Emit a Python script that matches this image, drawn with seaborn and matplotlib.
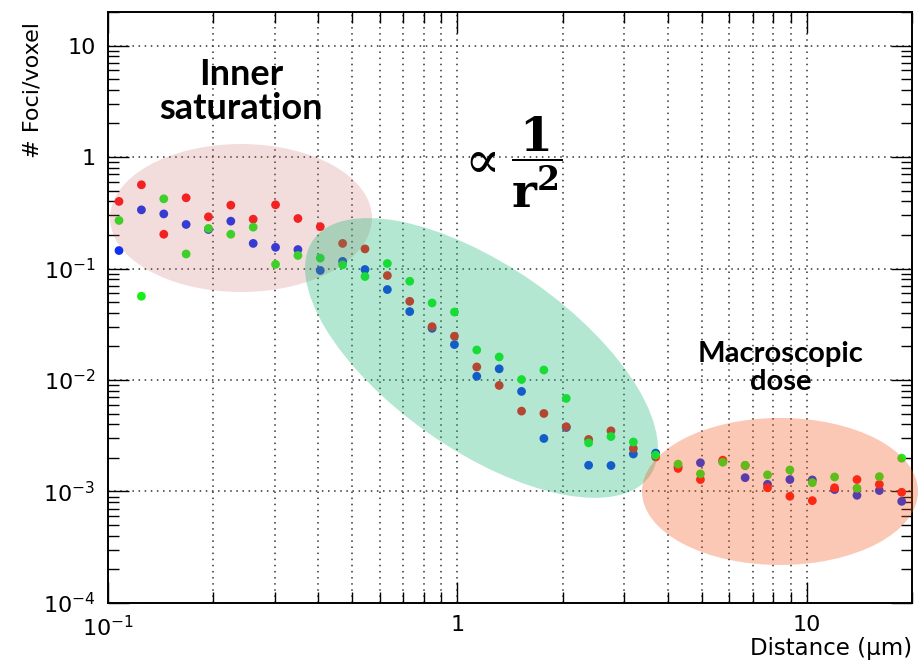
import numpy as np
import pandas as pd
import matplotlib
matplotlib.use('Agg')
import matplotlib.pyplot as plt
import matplotlib.ticker as mticker
from matplotlib.patches import Ellipse
from matplotlib.transforms import ScaledTranslation
import seaborn as sns

# Distance bins (um)
distance = [0.1075, 0.1246, 0.1444, 0.1673, 0.1938, 0.2246, 0.2603, 0.3016, 0.3495,
            0.4050, 0.4693, 0.5438, 0.6302, 0.7303, 0.8462, 0.9806, 1.136, 1.317,
            1.526, 1.768, 2.049, 2.374, 2.751, 3.188, 3.694, 4.281, 4.961, 5.748,
            6.661, 7.719, 8.945, 10.37, 12.01, 13.92, 16.13, 18.69]

# Foci per voxel for the three series
foci_red = [0.40, 0.564, 0.203, 0.431, 0.291, 0.370, 0.277, 0.373, 0.281,
            0.2375, 0.168, 0.150, 0.0865, 0.0508, 0.0301, 0.0247, 0.0131, 0.00894,
            0.00526, 0.00501, 0.00381, 0.00293, 0.00350, 0.00243, 0.00204, 0.00161,
            0.00128, 0.00191, 0.00171, 0.00108, 0.000906, 0.000828, 0.00108, 0.00128,
            0.00116, 0.000984]
foci_blue = [0.145, 0.336, 0.309, 0.2485, 0.224, 0.266, 0.168, 0.155, 0.148,
             0.0961, 0.116, 0.098, 0.0648, 0.0411, 0.0291, 0.0208, 0.0108, 0.0126,
             0.0079, 0.00299, 0.00375, 0.00172, 0.00171, 0.00217, 0.00221, 0.00167,
             0.00181, 0.00186, 0.00133, 0.00116, 0.00128, 0.00127, 0.00104, 0.000924,
             0.00102, 0.000816]
foci_green = [0.270, 0.0564, 0.422, 0.135, 0.229, 0.203, 0.235, 0.109, 0.131,
              0.124, 0.108, 0.0848, 0.111, 0.0769, 0.0491, 0.0407, 0.0186, 0.0161,
              0.0101, 0.0123, 0.00684, 0.00273, 0.00311, 0.00278, 0.00212, 0.00176,
              0.00144, 0.00183, 0.00172, 0.00141, 0.00156, 0.00120, 0.00135, 0.00107,
              0.00136, 0.00199]

x_ticks = [0.1, 1, 10]
x_ticklabels = [r'$10^{-1}$', '1', '10']
y_ticks = [1e-4, 1e-3, 1e-2, 1e-1, 1, 10]
y_ticklabels = [r'$10^{-4}$', r'$10^{-3}$', r'$10^{-2}$', r'$10^{-1}$', '1', '10']

sns.set_style('ticks')
plt.rcParams['font.family'] = ['DejaVu Sans']
plt.rcParams['mathtext.fontset'] = 'dejavusans'
plt.rcParams['text.color'] = 'black'
plt.rcParams['axes.labelcolor'] = 'black'

# blue drawn first, then red, green on top
df = pd.concat([
    pd.DataFrame({'distance': distance, 'foci': foci_blue, 'series': 'blue'}),
    pd.DataFrame({'distance': distance, 'foci': foci_red, 'series': 'red'}),
    pd.DataFrame({'distance': distance, 'foci': foci_green, 'series': 'green'}),
], ignore_index=True)
palette = {'blue': '#1030f0', 'red': '#ff1010', 'green': '#18ee18'}

fig = plt.figure(figsize=(9.21, 6.6), dpi=100)
ax = fig.add_axes([0.1173, 0.0864, 0.8729, 0.8954])
ax.set_xscale('log')
ax.set_yscale('log')
sns.scatterplot(data=df, x='distance', y='foci', hue='series', palette=palette,
                s=40, linewidth=0, legend=False, ax=ax, zorder=2)
ax.set_xlim(0.1, 20)
ax.set_ylim(1e-4, 20)

# ticks, ROOT style
ax.xaxis.set_major_locator(mticker.FixedLocator(x_ticks))
ax.xaxis.set_major_formatter(mticker.FixedFormatter(x_ticklabels))
ax.yaxis.set_major_locator(mticker.FixedLocator(y_ticks))
ax.yaxis.set_major_formatter(mticker.FixedFormatter(y_ticklabels))
ax.xaxis.set_minor_locator(mticker.LogLocator(base=10, subs=np.arange(2, 10), numticks=20))
ax.yaxis.set_minor_locator(mticker.LogLocator(base=10, subs=np.arange(2, 10), numticks=20))
ax.xaxis.set_minor_formatter(mticker.NullFormatter())
ax.yaxis.set_minor_formatter(mticker.NullFormatter())
ax.tick_params(which='both', direction='in', top=True, right=True, width=1,
               color='black', labelcolor='black', labelsize=16)
ax.tick_params(which='major', length=15)
ax.tick_params(which='minor', length=8)
ax.tick_params(axis='y', pad=9)
ax.tick_params(axis='x', pad=9)
for sp in ax.spines.values():
    sp.set_color('black')
    sp.set_linewidth(1.4)

ax.set_axisbelow(True)
ax.grid(which='major', axis='both', ls=(0, (1, 3)), color='#333333', lw=1.1)
ax.grid(which='minor', axis='x', ls=(0, (1, 3)), color='#333333', lw=1.1)

ax.set_xlabel('Distance (µm)', fontsize=16.5, loc='right')
ax.xaxis.set_label_coords(1.0, -0.058)
ax.set_ylabel('# Foci/voxel', fontsize=16, loc='top')
ax.yaxis.set_label_coords(-0.081, 0.983)

# highlighted regions (pixel sizes, centred in axes fraction)
regions = [
    (0.1654, 0.6514, 262, 148, 0, '#c86464', 0.22),
    (0.4645, 0.4146, 411, 184, -35, '#19b975', 0.33),
    (0.8358, 0.1887, 276, 147, 0, '#f05a1e', 0.33),
]
for cx, cy, w, h, ang, col, a in regions:
    e = Ellipse((0, 0), w, h, angle=ang, facecolor=col, edgecolor='none', alpha=a,
                transform=ScaledTranslation(cx, cy, ax.transAxes), zorder=3, clip_on=False)
    ax.add_artist(e)

ann_font = ['Lato', 'DejaVu Sans']
ax.text(0.1654, 0.866, 'Inner\nsaturation', transform=ax.transAxes, ha='center', va='center',
        fontsize=26, fontweight='bold', family=ann_font, linespacing=1.05, zorder=4)
ax.text(0.837, 0.3976, 'Macroscopic\ndose', transform=ax.transAxes, ha='center', va='center',
        fontsize=21, fontweight='bold', family=ann_font, linespacing=1.1, zorder=4)
ax.text(0.457, 0.748, r'$\propto$', transform=ax.transAxes, ha='center', va='center',
        fontsize=38, math_fontfamily='dejavuserif', zorder=4)
ax.text(0.5336, 0.745, r'$\dfrac{\mathbf{1}}{\mathbf{r}^{\mathbf{2}}}$',
        transform=ax.transAxes, ha='center', va='center', fontsize=34,
        math_fontfamily='dejavuserif', zorder=4)

fig.savefig('out.png', dpi=100)
